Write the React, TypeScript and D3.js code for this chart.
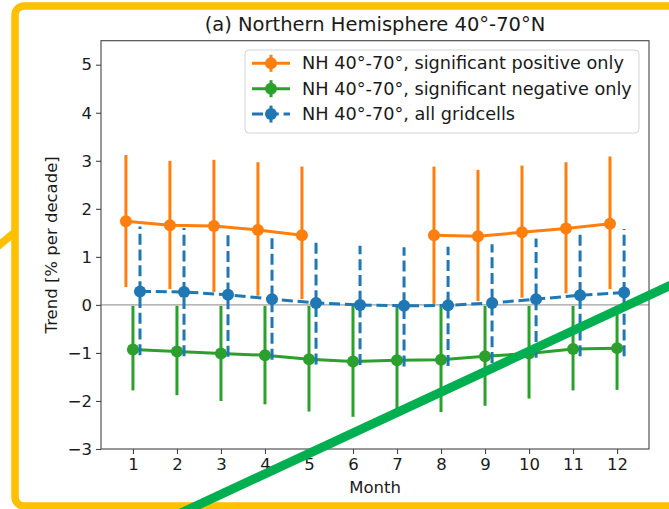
import * as d3 from 'd3';
import React, { useEffect, useRef } from 'react';

// Month axis
const months = [1, 2, 3, 4, 5, 6, 7, 8, 9, 10, 11, 12];
const yTicks = [-3, -2, -1, 0, 1, 2, 3, 4, 5];

// Significant positive only (no values for Jun/Jul)
const posTrend = [1.74, 1.66, 1.64, 1.56, 1.45, null, null, 1.45, 1.43, 1.51, 1.59, 1.69];
const posLow = [0.37, 0.33, 0.27, 0.19, 0.12, null, null, 0.02, 0.08, 0.15, 0.24, 0.33];
const posHigh = [3.12, 3.0, 3.02, 2.97, 2.88, null, null, 2.88, 2.81, 2.9, 2.97, 3.09];

// Significant negative only
const negTrend = [-0.93, -0.97, -1.01, -1.05, -1.13, -1.18, -1.15, -1.14, -1.07, -1.01, -0.92, -0.9];
const negLow = [-1.78, -1.88, -2.0, -2.07, -2.22, -2.33, -2.19, -2.23, -2.1, -1.95, -1.78, -1.77];
const negHigh = [-0.02, -0.02, -0.02, -0.02, -0.02, -0.02, -0.02, -0.02, -0.02, -0.02, -0.02, -0.02];

// All gridcells
const allTrend = [0.28, 0.27, 0.21, 0.12, 0.04, 0.0, -0.02, -0.01, 0.04, 0.12, 0.2, 0.26];
const allLow = [-1.05, -1.07, -1.08, -1.14, -1.24, -1.25, -1.28, -1.27, -1.21, -1.1, -1.07, -1.07];
const allHigh = [1.63, 1.6, 1.51, 1.39, 1.3, 1.23, 1.2, 1.21, 1.26, 1.38, 1.49, 1.58];

const seriesNames = [
  'NH 40°-70°, significant positive only',
  'NH 40°-70°, significant negative only',
  'NH 40°-70°, all gridcells',
];

const WIDTH = 669;
const HEIGHT = 509;
const FONT = '"DejaVu Sans", sans-serif';

interface Pt { x: number; y: number | null; lo: number | null; hi: number | null }

const App: React.FC = () => {
  const svgRef = useRef<SVGSVGElement>(null);

  useEffect(() => {
    if (!svgRef.current) return;
    const svg = d3.select(svgRef.current);
    svg.selectAll('*').remove();

    const plot = { left: 101, right: 649, top: 40.7, bottom: 449 };

    const xScale = d3.scaleLinear().domain([0.274, 12.726]).range([plot.left, plot.right]);
    const yScale = d3.scaleLinear().domain([-3, 5.5]).range([plot.bottom, plot.top]);

    svg.append('rect').attr('width', WIDTH).attr('height', HEIGHT).attr('fill', '#fff');

    // zero reference line
    svg.append('line')
      .attr('x1', plot.left).attr('x2', plot.right)
      .attr('y1', yScale(0)).attr('y2', yScale(0))
      .attr('stroke', '#a0a0a0').attr('stroke-width', 1.2);

    const toPts = (vals: (number | null)[], lo: (number | null)[], hi: (number | null)[]) =>
      months.map((m, i) => ({ x: m, y: vals[i], lo: lo[i], hi: hi[i] }));

    const series = [
      { color: '#ff7f0e', dash: null as string | null, offset: -0.16, pts: toPts(posTrend, posLow, posHigh) },
      { color: '#2ca02c', dash: null as string | null, offset: 0, pts: toPts(negTrend, negLow, negHigh) },
      { color: '#1f77b4', dash: '11,4.8', offset: 0.16, pts: toPts(allTrend, allLow, allHigh) },
    ];

    series.forEach((s) => {
      const g = svg.append('g');
      const px = (d: Pt) => xScale(d.x + s.offset);
      const valid = s.pts.filter((d) => d.y !== null);

      g.selectAll('line.err')
        .data(valid)
        .join('line')
        .attr('class', 'err')
        .attr('x1', px).attr('x2', px)
        .attr('y1', (d) => yScale(d.lo as number)).attr('y2', (d) => yScale(d.hi as number))
        .attr('stroke', s.color)
        .attr('stroke-width', 3)
        .attr('stroke-dasharray', s.dash);

      const line = d3.line<Pt>()
        .defined((d) => d.y !== null)
        .x(px)
        .y((d) => yScale(d.y as number));

      g.append('path')
        .datum(s.pts)
        .attr('d', line)
        .attr('fill', 'none')
        .attr('stroke', s.color)
        .attr('stroke-width', 3)
        .attr('stroke-dasharray', s.dash);

      g.selectAll('circle')
        .data(valid)
        .join('circle')
        .attr('cx', px)
        .attr('cy', (d) => yScale(d.y as number))
        .attr('r', 6)
        .attr('fill', s.color);
    });

    // axes
    const xAxis = svg.append('g')
      .attr('transform', `translate(0, ${plot.bottom})`)
      .call(d3.axisBottom(xScale).tickValues(months).tickSize(5).tickPadding(4));
    const yAxis = svg.append('g')
      .attr('transform', `translate(${plot.left}, 0)`)
      .call(d3.axisLeft(yScale).tickValues(yTicks).tickSize(5).tickPadding(4));

    [xAxis, yAxis].forEach((ax) => {
      ax.select('.domain').remove();
      ax.selectAll('line').attr('stroke', '#444').attr('stroke-width', 1.1);
      ax.selectAll('text')
        .style('font-size', '16.5px')
        .style('font-family', FONT)
        .attr('fill', '#1a1a1a');
    });

    svg.append('rect')
      .attr('x', plot.left).attr('y', plot.top)
      .attr('width', plot.right - plot.left).attr('height', plot.bottom - plot.top)
      .attr('fill', 'none').attr('stroke', '#444').attr('stroke-width', 1.1);

    // labels
    svg.append('text')
      .attr('x', (plot.left + plot.right) / 2).attr('y', 31)
      .attr('text-anchor', 'middle')
      .style('font-size', '19.5px').style('font-family', FONT)
      .attr('fill', '#1a1a1a')
      .text('(a) Northern Hemisphere 40°-70°N');

    svg.append('text')
      .attr('x', (plot.left + plot.right) / 2).attr('y', 493)
      .attr('text-anchor', 'middle')
      .style('font-size', '16.5px').style('font-family', FONT)
      .attr('fill', '#1a1a1a')
      .text('Month');

    svg.append('text')
      .attr('transform', `translate(57, ${(plot.top + plot.bottom) / 2}) rotate(-90)`)
      .attr('text-anchor', 'middle')
      .style('font-size', '16.5px').style('font-family', FONT)
      .attr('fill', '#1a1a1a')
      .text('Trend [% per decade]');

    // legend
    const legend = svg.append('g').attr('transform', 'translate(245, 50)');
    legend.append('rect')
      .attr('width', 394).attr('height', 83).attr('rx', 4)
      .attr('fill', 'rgba(255,255,255,0.8)')
      .attr('stroke', '#d5d5d5').attr('stroke-width', 1);

    series.forEach((s, i) => {
      const cy = 13.3 + i * 25.4;
      const row = legend.append('g').attr('transform', `translate(0, ${cy})`);
      row.append('line')
        .attr('x1', 7).attr('x2', 45).attr('y1', 0).attr('y2', 0)
        .attr('stroke', s.color).attr('stroke-width', 3)
        .attr('stroke-dasharray', s.dash);
      row.append('line')
        .attr('x1', 26).attr('x2', 26).attr('y1', -8.5).attr('y2', 8.5)
        .attr('stroke', s.color).attr('stroke-width', 3);
      row.append('circle').attr('cx', 26).attr('cy', 0).attr('r', 6).attr('fill', s.color);
      row.append('text')
        .attr('x', 57).attr('y', 6)
        .style('font-size', '17.7px').style('font-family', FONT)
        .attr('fill', '#1a1a1a')
        .text(seriesNames[i]);
    });

    // yellow frame and green annotation stroke
    svg.append('rect')
      .attr('x', 15).attr('y', 6).attr('width', 720).attr('height', 500).attr('rx', 9)
      .attr('fill', 'none').attr('stroke', '#ffc000').attr('stroke-width', 7.5);
    svg.append('line')
      .attr('x1', -6).attr('y1', 249.5).attr('x2', 15).attr('y2', 232)
      .attr('stroke', '#ffc000').attr('stroke-width', 7.5);
    svg.append('line')
      .attr('x1', 160).attr('y1', 522.7).attr('x2', 700).attr('y2', 271.6)
      .attr('stroke', '#00b050').attr('stroke-width', 9);
  }, []);

  return (
    <svg
      ref={svgRef}
      width={WIDTH}
      height={HEIGHT}
      style={{ position: 'absolute', left: 0, top: 0 }}
    />
  );
};

export default App;
